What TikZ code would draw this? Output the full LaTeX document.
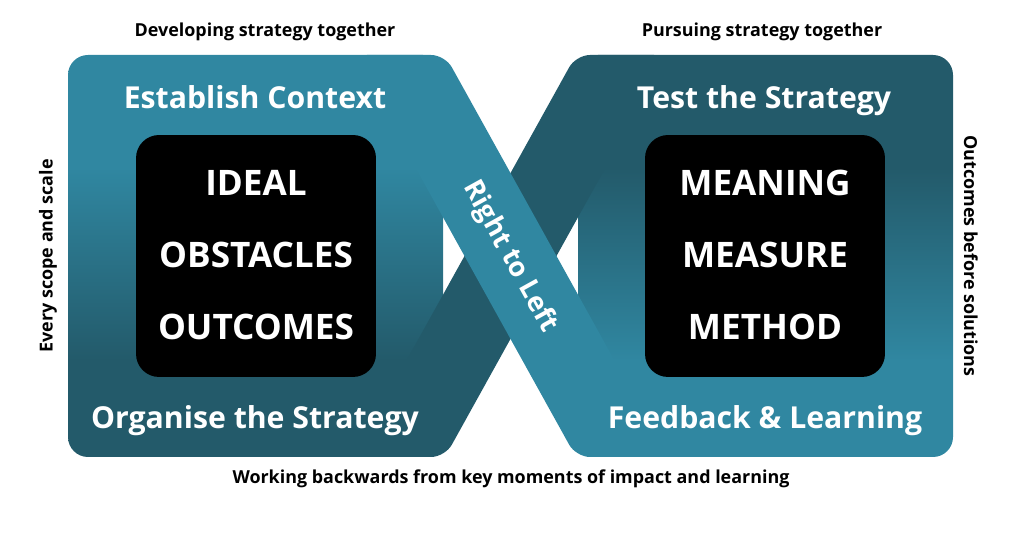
\documentclass[tikz,border=0pt]{standalone}
\usepackage{fontspec}
\setmainfont{Open Sans}
\usetikzlibrary{positioning}
\definecolor{teallight}{HTML}{3087A1}
\definecolor{tealdark}{HTML}{235A6A}
\pgfdeclareverticalshading{leftfade}{100bp}{color(0bp)=(tealdark); color(37bp)=(tealdark); color(61bp)=(teallight); color(100bp)=(teallight)}
\pgfdeclareverticalshading{rightfade}{100bp}{color(0bp)=(teallight); color(37bp)=(teallight); color(61bp)=(tealdark); color(100bp)=(tealdark)}
\tikzset{
    block/.style = {rounded corners=0.4cm},
    band/.style = {rounded corners=0.28cm},
    box/.style = {fill=black, rounded corners=0.46cm, minimum width=4.8cm, minimum height=4.84cm},
    title/.style = {text=white, anchor=base, font=\bfseries\fontsize{17.2}{20}\selectfont},
    word/.style = {text=white, anchor=base, font=\bfseries\fontsize{20}{24}\selectfont},
    note/.style = {text=black, font=\bfseries\fontsize{10.2}{12}\selectfont},
    tilted/.style = {text=white, rotate=-61, font=\bfseries\fontsize{15.5}{18}\selectfont},
}

\begin{document}
\begin{tikzpicture}[x=0.02cm, y=-0.02cm]
\useasboundingbox (0,0) rectangle (1024,546);
% two halves of the loop
\shade[block, shading=leftfade] (68,55) rectangle (443,457);
\shade[block, shading=rightfade] (578,55) rectangle (953,457);
% crossing bands, the light one on top
\fill[band, tealdark] (576,55) -- (668,55) -- (445,457) -- (353,457) -- cycle;
\fill[band, teallight] (353,55) -- (445,55) -- (668,457) -- (576,457) -- cycle;
%
\node[box] at (256,256) (lbox) {};
\node[box] at (765,256) (rbox) {};
%
\node[title] at (255,109) (ctx) {Establish Context};
\node[title] at (764,109) (test) {Test the Strategy};
\node[title] at (255,429) (org) {Organise the Strategy};
\node[title] at (765,429) (feed) {Feedback \& Learning};
%
\node[word] at (256,196) (ideal) {IDEAL};
\node[word] at (256,268) (obst) {OBSTACLES};
\node[word] at (256,340) (outc) {OUTCOMES};
\node[word] at (765,196) (mean) {MEANING};
\node[word] at (765,268) (meas) {MEASURE};
\node[word] at (765,340) (meth) {METHOD};
%
\node[tilted] at (510,257) (rtl) {Right to Left};
%
\node[note] at (265,32) (dev) {Developing strategy together};
\node[note] at (762,32) (pur) {Pursuing strategy together};
\node[note] at (511,479) (work) {Working backwards from key moments of impact and learning};
\node[note, rotate=90] at (48,256) (scope) {Every scope and scale};
\node[note, rotate=-90] at (971,256) (sol) {Outcomes before solutions};
\end{tikzpicture}
\end{document}
